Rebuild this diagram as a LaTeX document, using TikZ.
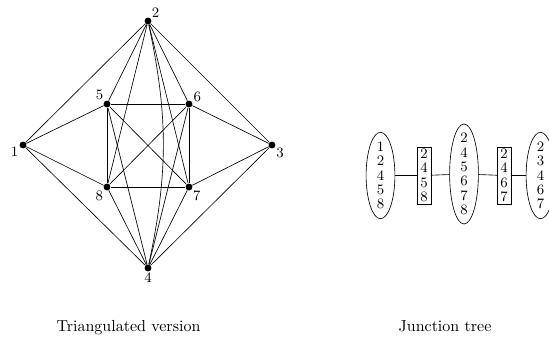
\documentclass[tikz,border=0pt]{standalone}
\usepackage{tikz}
\usetikzlibrary{shapes.geometric}
\tikzset{
	vertex/.style={circle, fill=black, inner sep=0pt, minimum size=4.3pt},
	vlabel/.style={font=\small, inner sep=0.5pt},
	clique/.style={ellipse, draw, minimum width=18pt},
	cliquetext/.style={font=\fontsize{9}{9}\selectfont, align=center, inner sep=0pt},
	separator/.style={rectangle, draw, font=\fontsize{9}{9}\selectfont, align=center, inner xsep=2pt, inner ysep=1.2pt},
}

\begin{document}
\begin{tikzpicture}[x=0.625pt, y=-0.625pt]
		%%%%% START %%%%%
		\useasboundingbox (0,0) rectangle (549,339);
		
		% triangulated graph
		\node[vertex, label={[vlabel]45:2}] (n2) at (148,21) {};
		\node[vertex, label={[vlabel]195:1}] (n1) at (23,145) {};
		\node[vertex, label={[vlabel]-30:3}] (n3) at (272,145) {};
		\node[vertex, label={[vlabel]below:4}] (n4) at (148,268) {};
		\node[vertex, label={[vlabel]135:5}] (n5) at (107,104) {};
		\node[vertex, label={[vlabel]20:6}] (n6) at (189,104) {};
		\node[vertex, label={[vlabel]-40:7}] (n7) at (189,187) {};
		\node[vertex, label={[vlabel]-140:8}] (n8) at (107,187) {};
		
		\draw (n2) -- (n1) -- (n4) -- (n3) -- (n2);
		\draw (n1) -- (n5) (n1) -- (n8);
		\draw (n3) -- (n6) (n3) -- (n7);
		\draw (n5) -- (n6) -- (n7) -- (n8) -- (n5);
		\draw (n5) -- (n7) (n6) -- (n8);
		\draw (n2) -- (n5) (n2) -- (n6) (n2) -- (n7) (n2) -- (n8);
		\draw (n4) -- (n5) (n4) -- (n6) (n4) -- (n7) (n4) -- (n8);
		\draw (n2) to[bend left=12] (n4);
		
		% junction tree
		\node[clique, minimum height=54pt] (c1) at (380.5,175.5) {};
		\node[cliquetext] (t1) at (c1) {1\\2\\4\\5\\8};
		\node[separator] (s1) at (424,175.5) {2\\4\\5\\8};
		\node[clique, minimum height=62.5pt] (c2) at (464,174) {};
		\node[cliquetext] (t2) at (c2) {2\\4\\5\\6\\7\\8};
		\node[separator] (s2) at (504,175.5) {2\\4\\6\\7};
		\node[clique, minimum height=54pt] (c3) at (540.5,175.5) {};
		\node[cliquetext] (t3) at (c3) {2\\3\\4\\6\\7};
		
		\draw (c1) -- (s1) -- (c2) -- (s2) -- (c3);
		
		% captions
		\node[anchor=base] (cap1) at (128.5,331) {Triangulated version};
		\node[anchor=base] (cap2) at (445,331) {Junction tree};
		%%%%% END %%%%%
\end{tikzpicture}
\end{document}
